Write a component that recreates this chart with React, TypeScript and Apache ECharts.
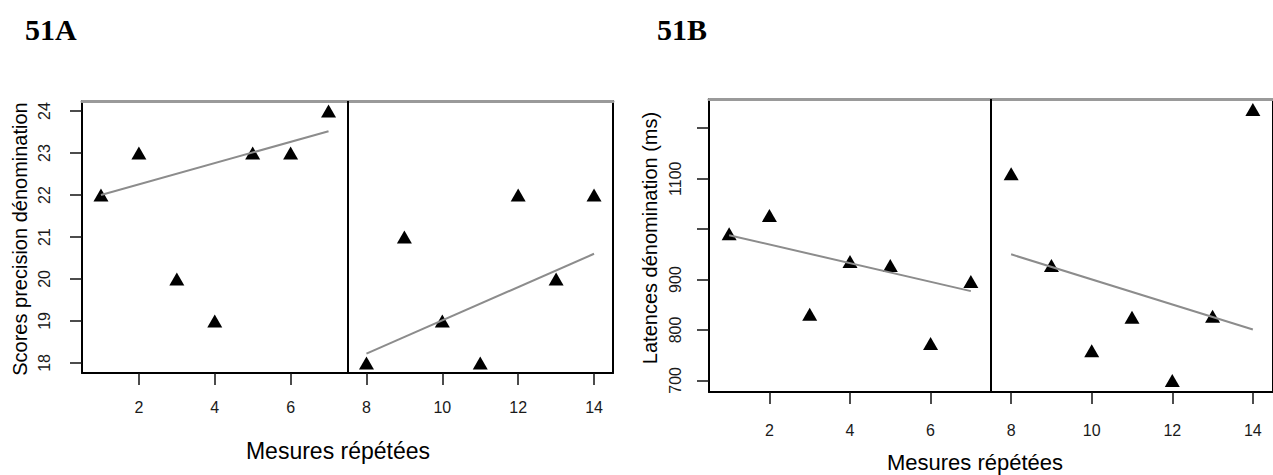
import React, { useEffect, useRef } from 'react';
import * as echarts from 'echarts';

// ---- data ----
const measures = [1, 2, 3, 4, 5, 6, 7, 8, 9, 10, 11, 12, 13, 14];
const scoresA = [22, 23, 20, 19, 23, 23, 24, 18, 21, 19, 18, 22, 20, 22];
const latencesB = [991, 1027, 831, 936, 928, 773, 896, 1110, 928, 759, 825, 700, 827, 1237];
const trendA1 = [[1, 22.0], [7, 23.52]];
const trendA2 = [[8, 18.22], [14, 20.6]];
const trendB1 = [[1, 988], [7, 877]];
const trendB2 = [[8, 950], [14, 801]];
const xTicks = [2, 4, 6, 8, 10, 12, 14];
const yTicksA = [18, 19, 20, 21, 22, 23, 24];
const yTicksB = [700, 800, 900, 1000, 1100, 1200];
const yLabelsB = [700, 800, 900, 1100];
const phaseBoundary = 7.5;
const panelTitles = ['51A', '51B'];
const xTitle = 'Mesures répétées';
const yTitleA = 'Scores precision dénomination';
const yTitleB = 'Latences dénomination (ms)';

const FONT = 'Liberation Sans, Arial, sans-serif';
const plain = (v: number) => String(v);

function bottomAxis(gridIndex: number) {
  return {
    type: 'value', gridIndex, min: 0.5, max: 14.5, position: 'bottom',
    axisLine: { show: true, onZero: false, lineStyle: { color: '#000', width: 2 } },
    axisTick: { show: true, customValues: xTicks, length: 12, lineStyle: { color: '#111', width: 1.5 } },
    axisLabel: { show: true, customValues: xTicks, formatter: plain, margin: gridIndex === 0 ? 26 : 30, fontSize: 16, color: '#1a1a1a', fontFamily: FONT },
    splitLine: { show: false },
  };
}
function topAxis(gridIndex: number) {
  return {
    type: 'value', gridIndex, min: 0.5, max: 14.5, position: 'top',
    axisLine: { show: true, onZero: false, lineStyle: { color: '#9a9a9a', width: 3 } },
    axisTick: { show: false }, axisLabel: { show: false }, splitLine: { show: false },
  };
}
function rightAxis(gridIndex: number, min: number, max: number) {
  return {
    type: 'value', gridIndex, min, max, position: 'right',
    axisLine: { show: true, onZero: false, lineStyle: { color: '#000', width: 2 } },
    axisTick: { show: false }, axisLabel: { show: false }, splitLine: { show: false },
  };
}

export default function App() {
  const ref = useRef<HTMLDivElement>(null);
  useEffect(() => {
    if (!ref.current) return;
    const chart = echarts.init(ref.current, undefined, { renderer: 'svg' });
    const lineStyle = { color: '#8c8c8c', width: 2 };
    const tri = { symbol: 'triangle', symbolSize: [15, 13], itemStyle: { color: '#000', opacity: 1 } };
    const divider = {
      silent: true, symbol: ['none', 'none'], label: { show: false },
      lineStyle: { color: '#000', width: 2, type: 'solid' },
      data: [{ xAxis: phaseBoundary }],
    };
    chart.setOption({
      animation: false,
      backgroundColor: '#fff',
      grid: [
        { left: 82, top: 101, width: 531, height: 272 },
        { left: 709, top: 99, width: 573, height: 293 },
      ],
      xAxis: [bottomAxis(0), topAxis(0), bottomAxis(1), topAxis(1)],
      yAxis: [
        {
          type: 'value', gridIndex: 0, min: 17.76, max: 24.24,
          axisLine: { show: true, onZero: false, lineStyle: { color: '#000', width: 2 } },
          axisTick: { show: true, customValues: yTicksA, length: 12, lineStyle: { color: '#111', width: 1.5 } },
          axisLabel: { show: true, customValues: yTicksA, formatter: plain, rotate: 90, margin: 30, fontSize: 16, color: '#1a1a1a', fontFamily: FONT },
          splitLine: { show: false },
        },
        rightAxis(0, 17.76, 24.24),
        {
          type: 'value', gridIndex: 1, min: 677, max: 1258,
          axisLine: { show: true, onZero: false, lineStyle: { color: '#000', width: 2 } },
          axisTick: { show: true, customValues: yTicksB, length: 12, lineStyle: { color: '#111', width: 1.5 } },
          axisLabel: { show: true, customValues: yLabelsB, formatter: plain, rotate: 90, margin: 26, fontSize: 16, color: '#1a1a1a', fontFamily: FONT },
          splitLine: { show: false },
        },
        rightAxis(1, 677, 1258),
      ],
      series: [
        { type: 'line', xAxisIndex: 0, yAxisIndex: 0, data: trendA1, showSymbol: false, lineStyle, markLine: divider },
        { type: 'line', xAxisIndex: 0, yAxisIndex: 0, data: trendA2, showSymbol: false, lineStyle },
        { type: 'scatter', xAxisIndex: 0, yAxisIndex: 0, data: measures.map((m, i) => [m, scoresA[i]]), ...tri },
        { type: 'line', xAxisIndex: 2, yAxisIndex: 2, data: trendB1, showSymbol: false, lineStyle, markLine: divider },
        { type: 'line', xAxisIndex: 2, yAxisIndex: 2, data: trendB2, showSymbol: false, lineStyle },
        { type: 'scatter', xAxisIndex: 2, yAxisIndex: 2, data: measures.map((m, i) => [m, latencesB[i]]), ...tri },
      ],
      graphic: [
        { type: 'text', x: 25, y: 44, style: { text: panelTitles[0], font: 'bold 30px "Liberation Serif", "Times New Roman", serif', fill: '#000', textAlign: 'left', textVerticalAlign: 'bottom' } },
        { type: 'text', x: 657, y: 44, style: { text: panelTitles[1], font: 'bold 30px "Liberation Serif", "Times New Roman", serif', fill: '#000', textAlign: 'left', textVerticalAlign: 'bottom' } },
        { type: 'text', x: 338, y: 451, style: { text: xTitle, font: '23px ' + FONT, fill: '#000', textAlign: 'center', textVerticalAlign: 'middle' } },
        { type: 'text', x: 975, y: 462, style: { text: xTitle, font: '22px ' + FONT, fill: '#000', textAlign: 'center', textVerticalAlign: 'middle' } },
        { type: 'text', x: 20, y: 239, rotation: Math.PI / 2, style: { text: yTitleA, font: '20px ' + FONT, fill: '#000', textAlign: 'center', textVerticalAlign: 'middle' } },
        { type: 'text', x: 650, y: 238, rotation: Math.PI / 2, style: { text: yTitleB, font: '20px ' + FONT, fill: '#000', textAlign: 'center', textVerticalAlign: 'middle' } },
      ],
    });
    return () => chart.dispose();
  }, []);
  return <div ref={ref} style={{ position: 'fixed', left: 0, top: 0, width: 1273, height: 475 }} />;
}
